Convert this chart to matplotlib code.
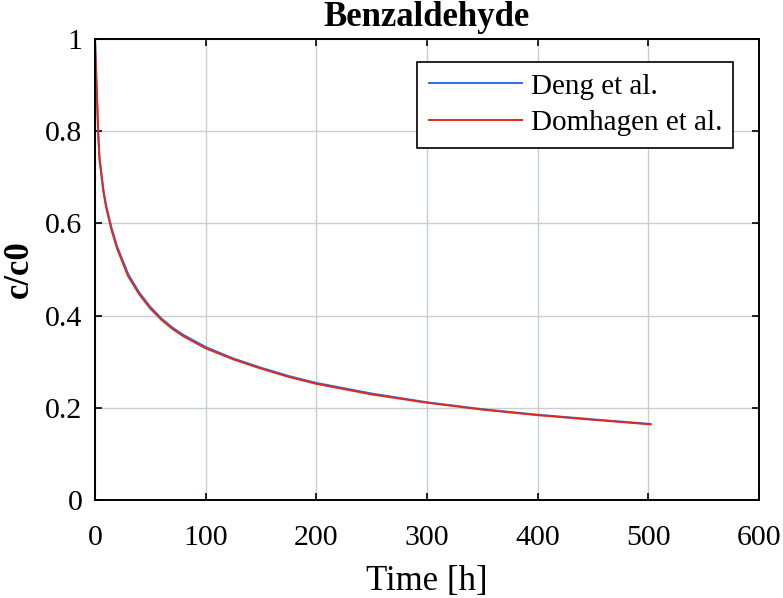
import numpy as np
import matplotlib.pyplot as plt

plt.rcParams['font.family'] = ['Liberation Serif', 'DejaVu Serif']
plt.rcParams['mathtext.fontset'] = 'stix'

# time [h]
t = [0, 1, 2, 3, 4, 5, 7.5, 10, 15, 20, 30, 40, 50, 60, 70, 80, 100, 125,
     150, 175, 200, 250, 300, 350, 400, 450, 502]
# c/c0 values
deng = [1.0, 0.93, 0.86, 0.79, 0.745, 0.725, 0.675, 0.64, 0.59, 0.55, 0.49,
        0.45, 0.419, 0.394, 0.374, 0.358, 0.332, 0.307, 0.287, 0.269, 0.254,
        0.231, 0.212, 0.197, 0.185, 0.175, 0.165]
domhagen = [1.0, 0.93, 0.86, 0.79, 0.74, 0.72, 0.67, 0.635, 0.585, 0.545,
            0.485, 0.446, 0.415, 0.391, 0.371, 0.355, 0.329, 0.305, 0.285,
            0.267, 0.252, 0.229, 0.211, 0.196, 0.184, 0.174, 0.164]

fig = plt.figure(figsize=(7.83, 5.98), dpi=100)
ax = fig.add_axes([95 / 783, 1 - 500 / 598, 664 / 783, 461 / 598])

ax.plot(t, deng, color='#2f6fe0', lw=1.4, label='Deng et al.')
ax.plot(t, domhagen, color='#e2281b', lw=1.4, label='Domhagen et al.')

ax.set_xlim(0, 600)
ax.set_ylim(0, 1)
ax.set_xticks(np.arange(0, 601, 100))
ax.set_yticks([0, 0.2, 0.4, 0.6, 0.8, 1])
ax.set_yticklabels(['0', '0.2', '0.4', '0.6', '0.8', '1'])
ax.grid(True, color='#c8cfcf', lw=1.0)
ax.set_axisbelow(True)
ax.tick_params(direction='in', top=True, right=True, length=5, width=1.2,
               labelsize=21.5)
ax.tick_params(axis='x', pad=18)
ax.tick_params(axis='y', pad=9)
for s in ax.spines.values():
    s.set_linewidth(1.4)

ax.set_xlabel('Time [h]', fontsize=25, labelpad=10)
ax.set_ylabel('c/c0', fontsize=25, fontweight='bold', labelpad=7)
ax.set_title('Benzaldehyde', fontsize=25, fontweight='bold', pad=9)

leg = ax.legend(loc='upper right', fontsize=21, fancybox=False,
                edgecolor='black', framealpha=1, handlelength=3.2,
                handletextpad=0.3, borderpad=0.38, labelspacing=0.36,
                borderaxespad=0, bbox_to_anchor=(0.961, 0.950))
leg.get_frame().set_linewidth(1.2)

fig.savefig('out.png', dpi=100)
